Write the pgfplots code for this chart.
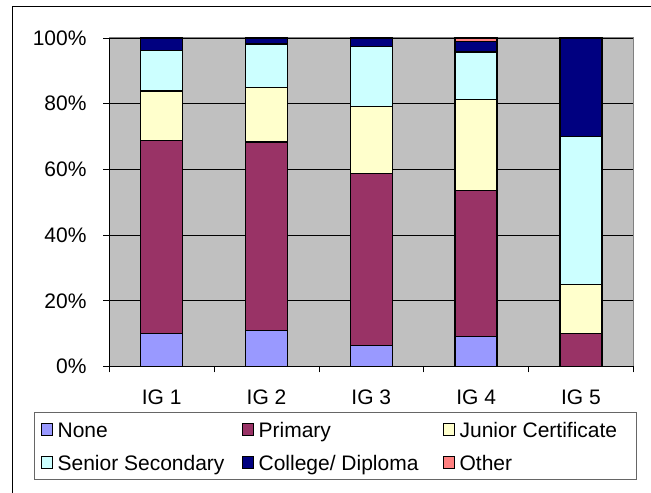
\documentclass[border=0pt]{standalone}
\usepackage{pgfplots}
\pgfplotsset{compat=1.18}
\usepackage{fontspec}
\setmainfont{Liberation Sans}
\definecolor{cNone}{RGB}{153,153,255}
\definecolor{cPrim}{RGB}{153,51,102}
\definecolor{cJun}{RGB}{255,255,204}
\definecolor{cSen}{RGB}{204,255,255}
\definecolor{cCol}{RGB}{0,0,128}
\definecolor{cOth}{RGB}{255,128,128}
\definecolor{bgGray}{RGB}{192,192,192}
\definecolor{bdGray}{RGB}{128,128,128}
\newcommand{\cf}{\fontsize{21bp}{25bp}\selectfont}
\newcommand{\legtxt}[2]{\makebox[#1][l]{\hspace{4.5bp}#2}}
\pgfplotsset{sqlegend/.style={legend image code/.code={\draw[##1, /tikz/line width=1.2bp] (0.6bp,-6.25bp) rectangle (11.4bp,5.25bp);}}}
\begin{document}
\begin{tikzpicture}[x=1bp,y=1bp]
\useasboundingbox (0,0) rectangle (651,493);
\draw[black, line width=1bp] (12,-5) -- (12,486) -- (660,486);
\begin{axis}[
  at={(109.3bp,126.5bp)}, anchor=south west,
  scale only axis, width=524bp, height=328.5bp,
  xmin=0.5, xmax=5.5, ymin=0, ymax=100,
  ybar stacked, bar width=42bp,
  axis background/.style={fill=bgGray, draw=bdGray, line width=1bp},
  axis x line*=bottom, axis y line*=left,
  axis line style={black, line width=1bp},
  tick align=outside, major tick length=6bp,
  tick style={black, line width=0.8bp},
  xtick={0.5,1.5,2.5,3.5,4.5,5.5}, xticklabels={},
  extra x ticks={1,2,3,4,5},
  extra x tick labels={IG 1,IG 2,IG 3,IG 4,IG 5},
  extra x tick style={major tick length=0pt, xticklabel style={anchor=north, inner sep=0pt, yshift=-23bp, font=\cf}},
  ytick={0,20,40,60,80,100},
  yticklabels={0\%,20\%,40\%,60\%,80\%,100\%},
  yticklabel style={anchor=east, inner sep=0pt, xshift=-16.6bp, font=\cf},
  ymajorgrids, grid style={black, line width=0.8bp},
  legend columns=3,
  legend style={at={(axis description cs:-0.14313,-0.13760)}, anchor=north west,
    draw=black!60, line width=0.8bp, fill=white,
    inner xsep=6.4bp, inner ysep=7bp, row sep=13bp,
    nodes={inner sep=0pt, text height=18bp, text depth=2bp, anchor=west, font=\cf},
    /tikz/every even column/.style={column sep=0pt},
    /tikz/every odd column/.style={column sep=0pt}},
]
\addplot[fill=cNone, draw=black, line width=1.5bp, sqlegend] coordinates {(1,10.1) (2,11.0) (3,6.4) (4,9.1) (5,0)};
\addlegendentry{\legtxt{189bp}{None}}
\addplot[fill=cPrim, draw=black, line width=1.5bp, sqlegend] coordinates {(1,58.7) (2,57.3) (3,52.3) (4,44.5) (5,10)};
\addlegendentry{\legtxt{189bp}{Primary}}
\addplot[fill=cJun, draw=black, line width=1.5bp, sqlegend] coordinates {(1,15.1) (2,16.7) (3,20.4) (4,27.6) (5,15)};
\addlegendentry{\legtxt{174.6bp}{Junior Certificate}}
\addplot[fill=cSen, draw=black, line width=1.5bp, sqlegend] coordinates {(1,12.3) (2,13.2) (3,18.3) (4,14.5) (5,45)};
\addlegendentry{\legtxt{189bp}{Senior Secondary}}
\addplot[fill=cCol, draw=black, line width=1.5bp, sqlegend] coordinates {(1,3.8) (2,1.8) (3,2.6) (4,3.3) (5,30)};
\addlegendentry{\legtxt{189bp}{College/ Diploma}}
\addplot[fill=cOth, draw=black, line width=1.5bp, sqlegend] coordinates {(1,0) (2,0) (3,0) (4,1.0) (5,0)};
\addlegendentry{\legtxt{174.6bp}{Other}}
\end{axis}
\end{tikzpicture}
\end{document}
